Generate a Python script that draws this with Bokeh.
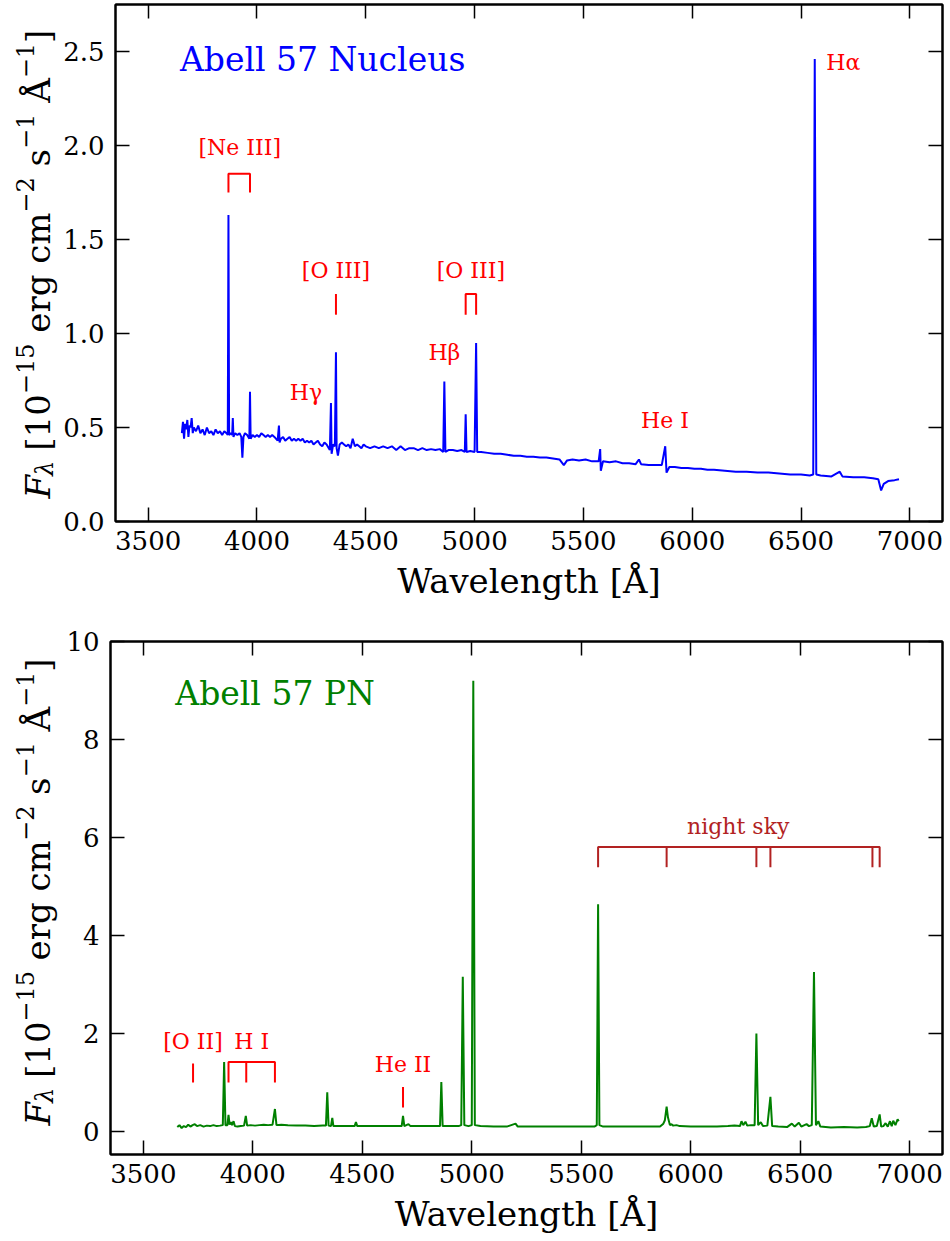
from bokeh.plotting import figure
from bokeh.models import Range1d, LinearAxis, FixedTicker, Label, NumeralTickFormatter
from bokeh.layouts import column, row
from bokeh.embed import file_html
from bokeh.resources import INLINE
from bokeh.core.properties import value

FONT = "DejaVu Serif"

# ---------------- data: Abell 57 nucleus spectrum (wavelength [A], flux) ----------------
nuc_spectrum = [
    (3655, 0.47), (3660, 0.53), (3665, 0.44), (3670, 0.52), (3675, 0.49), (3680, 0.54),
    (3685, 0.45), (3690, 0.51), (3695, 0.50), (3700, 0.55), (3705, 0.47), (3710, 0.50),
    (3720, 0.48), (3730, 0.51), (3740, 0.47), (3750, 0.49), (3760, 0.46), (3770, 0.50),
    (3780, 0.47), (3790, 0.48), (3800, 0.46), (3810, 0.49), (3820, 0.47), (3830, 0.48),
    (3840, 0.46), (3850, 0.48), (3860, 0.47), (3866, 0.46), (3869, 1.63), (3872, 0.46),
    (3880, 0.47), (3886, 0.46), (3889, 0.55), (3892, 0.45), (3900, 0.47), (3910, 0.46),
    (3920, 0.47), (3928, 0.45), (3933, 0.34), (3938, 0.45), (3945, 0.47), (3955, 0.46),
    (3965, 0.44), (3968, 0.69), (3971, 0.44), (3980, 0.46), (3990, 0.45), (4000, 0.46),
    (4010, 0.45), (4020, 0.47), (4030, 0.46), (4040, 0.45), (4050, 0.46), (4060, 0.45),
    (4070, 0.46), (4080, 0.45), (4095, 0.43), (4101, 0.51), (4104, 0.42), (4110, 0.44),
    (4120, 0.45), (4130, 0.43), (4140, 0.44), (4150, 0.45), (4160, 0.43), (4170, 0.44),
    (4180, 0.43), (4190, 0.44), (4200, 0.43), (4210, 0.44), (4220, 0.42), (4230, 0.43),
    (4240, 0.42), (4250, 0.43), (4260, 0.41), (4270, 0.42), (4280, 0.43), (4290, 0.41),
    (4300, 0.40), (4310, 0.42), (4320, 0.41), (4330, 0.39), (4335, 0.38), (4340, 0.63),
    (4343, 0.36), (4350, 0.41), (4358, 0.40), (4363, 0.90), (4366, 0.39), (4372, 0.35),
    (4380, 0.41), (4390, 0.42), (4400, 0.41), (4410, 0.40), (4420, 0.41), (4430, 0.39),
    (4440, 0.44), (4450, 0.40), (4460, 0.41), (4470, 0.40), (4480, 0.39), (4490, 0.41),
    (4500, 0.40), (4520, 0.39), (4540, 0.40), (4560, 0.39), (4580, 0.40), (4600, 0.39),
    (4620, 0.40), (4640, 0.38), (4660, 0.40), (4680, 0.38), (4700, 0.39), (4720, 0.39),
    (4740, 0.38), (4760, 0.39), (4780, 0.38), (4800, 0.385), (4820, 0.38), (4840, 0.385),
    (4856, 0.37), (4861, 0.745), (4866, 0.37), (4880, 0.38), (4900, 0.38), (4920, 0.375),
    (4940, 0.38), (4955, 0.37), (4959, 0.57), (4963, 0.37), (4980, 0.375), (5000, 0.37),
    (5007, 0.95), (5012, 0.37), (5030, 0.37), (5060, 0.365), (5090, 0.36), (5120, 0.36),
    (5150, 0.355), (5180, 0.35), (5210, 0.35), (5240, 0.345), (5270, 0.345), (5300, 0.34),
    (5330, 0.34), (5360, 0.335), (5390, 0.33), (5410, 0.30), (5425, 0.325), (5450, 0.33),
    (5480, 0.325), (5510, 0.33), (5540, 0.32), (5570, 0.32), (5577, 0.385), (5580, 0.27),
    (5590, 0.32), (5620, 0.315), (5650, 0.32), (5680, 0.31), (5710, 0.31), (5740, 0.305),
    (5755, 0.33), (5765, 0.305), (5800, 0.30), (5830, 0.30), (5860, 0.30), (5876, 0.40),
    (5882, 0.26), (5895, 0.29), (5920, 0.29), (5950, 0.285), (5980, 0.285), (6010, 0.28),
    (6040, 0.28), (6070, 0.275), (6100, 0.275), (6150, 0.27), (6200, 0.265), (6250, 0.265),
    (6300, 0.26), (6350, 0.26), (6400, 0.255), (6450, 0.25), (6500, 0.25), (6540, 0.245),
    (6556, 0.25), (6563, 2.46), (6570, 0.25), (6590, 0.245), (6640, 0.24), (6678, 0.265),
    (6690, 0.24), (6740, 0.235), (6790, 0.235), (6830, 0.23), (6855, 0.225), (6868, 0.165),
    (6880, 0.20), (6900, 0.215), (6930, 0.22), (6950, 0.225),
]

# ---------------- data: Abell 57 PN spectrum (wavelength [A], flux) ----------------
pn_spectrum = [
    (3655, 0.08), (3665, 0.12), (3675, 0.06), (3685, 0.10), (3695, 0.08), (3705, 0.13),
    (3715, 0.09), (3725, 0.12), (3735, 0.14), (3745, 0.10), (3760, 0.12), (3775, 0.09),
    (3790, 0.11), (3805, 0.10), (3820, 0.12), (3835, 0.10), (3850, 0.11), (3863, 0.12),
    (3869, 1.41), (3875, 0.12), (3884, 0.12), (3889, 0.33), (3894, 0.13), (3900, 0.18),
    (3905, 0.12), (3912, 0.20), (3918, 0.10), (3930, 0.09), (3945, 0.10), (3960, 0.11),
    (3968, 0.31), (3974, 0.11), (3990, 0.12), (4010, 0.11), (4030, 0.12), (4050, 0.13),
    (4070, 0.12), (4090, 0.13), (4101, 0.45), (4108, 0.12), (4130, 0.13), (4160, 0.12),
    (4200, 0.11), (4240, 0.11), (4280, 0.10), (4320, 0.11), (4334, 0.11), (4340, 0.79),
    (4346, 0.11), (4357, 0.10), (4363, 0.27), (4368, 0.10), (4400, 0.10), (4440, 0.10),
    (4465, 0.10), (4471, 0.18), (4477, 0.10), (4520, 0.10), (4560, 0.10), (4600, 0.10),
    (4640, 0.10), (4680, 0.10), (4686, 0.31), (4692, 0.10), (4711, 0.14), (4720, 0.10),
    (4760, 0.10), (4800, 0.10), (4840, 0.10), (4855, 0.10), (4861, 1.00), (4867, 0.10),
    (4900, 0.10), (4940, 0.10), (4952, 0.12), (4959, 3.15), (4966, 0.12), (4985, 0.10),
    (5000, 0.12), (5007, 9.20), (5014, 0.12), (5040, 0.10), (5100, 0.09), (5160, 0.09),
    (5200, 0.15), (5210, 0.09), (5260, 0.09), (5320, 0.09), (5380, 0.09), (5440, 0.09),
    (5500, 0.09), (5560, 0.09), (5571, 0.12), (5577, 4.63), (5583, 0.12), (5600, 0.09),
    (5660, 0.09), (5720, 0.09), (5800, 0.09), (5860, 0.09), (5875, 0.15), (5882, 0.22),
    (5890, 0.50), (5896, 0.28), (5905, 0.12), (5912, 0.14), (5920, 0.11), (5935, 0.12),
    (5950, 0.10), (6000, 0.09), (6060, 0.09), (6120, 0.09), (6170, 0.10), (6200, 0.11),
    (6225, 0.10), (6232, 0.20), (6240, 0.12), (6250, 0.19), (6258, 0.11), (6275, 0.12),
    (6292, 0.12), (6300, 1.99), (6308, 0.12), (6320, 0.18), (6330, 0.10), (6350, 0.11),
    (6364, 0.70), (6372, 0.10), (6400, 0.09), (6440, 0.08), (6462, 0.15), (6475, 0.09),
    (6494, 0.17), (6505, 0.09), (6529, 0.14), (6540, 0.10), (6553, 0.12), (6563, 3.25),
    (6572, 0.12), (6583, 0.20), (6592, 0.09), (6640, 0.07), (6700, 0.08), (6760, 0.07),
    (6800, 0.08), (6818, 0.10), (6827, 0.26), (6836, 0.09), (6850, 0.10), (6863, 0.34),
    (6870, 0.09), (6880, 0.10), (6890, 0.16), (6900, 0.09), (6910, 0.20), (6918, 0.10),
    (6925, 0.21), (6935, 0.12), (6945, 0.24), (6950, 0.20),
]

x_ticks = [3500, 4000, 4500, 5000, 5500, 6000, 6500, 7000]
nuc_y_ticks = [0.0, 0.5, 1.0, 1.5, 2.0, 2.5]
pn_y_ticks = [0, 2, 4, 6, 8, 10]

# line identifications (nucleus)
nuc_id_text = ["[Ne III]", "[O III]", "[O III]", "Hγ", "Hβ", "He I", "Hα"]
nuc_id_x = [3921, 4363, 4983, 4225, 4861, 5875, 6694]
nuc_id_y = [1.99, 1.335, 1.335, 0.687, 0.90, 0.537, 2.44]
nuc_marks = [[3869, 3968], [4363], [4959, 5007]]
nuc_mark_top = [1.85, 1.21, 1.21]
nuc_mark_bot = [1.75, 1.10, 1.10]

# line identifications (PN)
pn_id_text = ["[O II]", "H I", "He II"]
pn_id_x = [3727, 3995, 4686]
pn_id_y = [1.83, 1.83, 1.36]
pn_marks = [[3727], [3889, 3970, 4101], [4686]]
pn_mark_top = [1.38, 1.41, 0.90]
pn_mark_bot = [0.99, 0.99, 0.48]

sky_text = "night sky"
sky_text_x = 6217
sky_text_y = 6.22
sky_marks = [5577, 5890, 6300, 6364, 6830, 6863]
sky_mark_top = 5.80
sky_mark_bot = 5.39

# y-axis label: F_lambda [10^-15 erg cm^-2 s^-1 A^-1]  -> (text, role); role: 0 normal, 1 sup, 2 sub, 3 italic
ylabel_parts = [("F", 3), ("λ", 2), ("[10", 0), ("−15", 1), ("erg cm", 0), ("−2", 1),
                ("s", 0), ("−1", 1), ("Å", 0), ("−1", 1), ("]", 0)]
ylabel_space_before = [False, False, True, False, True, False, True, False, True, False, False]

XR = (3350, 7150)
NUC_YR = (0.0, 2.75)
PN_YR = (-0.48, 10.0)

RED = "#ff0000"
SKY = "#b22222"
LAB_W = 60

# approximate DejaVu Serif advance widths (em)
ADV = {"[": 0.390, "]": 0.390, "−": 0.838, "e": 0.592, "r": 0.478, "g": 0.635, "c": 0.560,
       "m": 0.948, "s": 0.514, "Å": 0.722, " ": 0.318, "F": 0.665, "λ": 0.60}


def text_width(t, size):
    return sum(ADV.get(ch, 0.636) for ch in t) * size


def style_axis(ax, show_labels):
    ax.axis_line_width = 2
    ax.axis_line_color = "black"
    ax.major_tick_in = 14
    ax.major_tick_out = 0
    ax.minor_tick_in = 0
    ax.minor_tick_out = 0
    ax.major_tick_line_width = 1.5
    ax.major_tick_line_color = "black"
    ax.major_label_text_font = FONT
    if show_labels:
        ax.major_label_text_font_size = "26px"
        ax.major_label_text_color = "black"
    else:
        ax.major_label_text_font_size = "1px"
        ax.major_label_text_color = None
        ax.major_label_standoff = 0


def make_fig(height, top, bottom, yr, yticks, yfmt):
    p = figure(width=950 - LAB_W, height=height, x_range=Range1d(*XR), y_range=Range1d(*yr),
               output_backend="svg", toolbar_location=None,
               min_border_left=110 - LAB_W, min_border_right=8,
               min_border_top=top, min_border_bottom=bottom)
    p.grid.visible = False
    p.outline_line_color = "black"
    p.outline_line_width = 2
    p.background_fill_color = "white"
    p.border_fill_color = "white"

    p.xaxis.ticker = FixedTicker(ticks=x_ticks)
    p.yaxis.ticker = FixedTicker(ticks=yticks)
    if yfmt:
        p.yaxis.formatter = NumeralTickFormatter(format=yfmt)
    style_axis(p.xaxis[0], True)
    style_axis(p.yaxis[0], True)
    p.xaxis.major_label_standoff = 9
    p.yaxis.major_label_standoff = 11
    p.xaxis.axis_label = "Wavelength [Å]"
    p.xaxis.axis_label_text_font = FONT
    p.xaxis.axis_label_text_font_size = "34px"
    p.xaxis.axis_label_text_font_style = "normal"
    p.xaxis.axis_label_text_color = "black"
    p.xaxis.axis_label_standoff = 8

    top_ax = LinearAxis(ticker=FixedTicker(ticks=x_ticks))
    right_ax = LinearAxis(ticker=FixedTicker(ticks=yticks))
    style_axis(top_ax, False)
    style_axis(right_ax, False)
    p.add_layout(top_ax, "above")
    p.add_layout(right_ax, "right")
    return p


def make_label_fig(height, top, bottom, start_px):
    # narrow strip holding the rotated y-axis label; its frame matches the main frame
    # vertically, and its data units are page pixels counted from the figure bottom
    q = figure(width=LAB_W, height=height, x_range=Range1d(0, LAB_W),
               y_range=Range1d(bottom, height - top),
               output_backend="svg", toolbar_location=None, x_axis_type=None, y_axis_type=None,
               min_border_left=0, min_border_right=0, min_border_top=top, min_border_bottom=bottom)
    q.outline_line_color = None
    q.grid.visible = False
    q.background_fill_color = "white"
    q.border_fill_color = "white"
    S, s = 34, 24
    base = 37
    pos = start_px
    for (t, role), sp in zip(ylabel_parts, ylabel_space_before):
        if sp:
            pos -= ADV[" "] * S
        size = S if role in (0, 3) else s
        bx = {0: base, 3: base, 1: base - 13, 2: base + 7}[role]
        style = "italic" if role in (2, 3) else "normal"
        q.text([bx], [height - pos], text=[t], angle=1.5707963,
               text_font=value(FONT), text_font_size=value("%dpx" % size),
               text_font_style=style, text_color="black",
               text_baseline="alphabetic", text_align="left")
        pos -= text_width(t, size)
    return q


def draw_marks(p, groups, tops, bots, color):
    xs, ys = [], []
    for g, t, b in zip(groups, tops, bots):
        if len(g) == 1:
            xs.append([g[0], g[0]])
            ys.append([b, t])
        else:
            xs.append([g[0], g[0], g[-1], g[-1]])
            ys.append([b, t, t, b])
            for w in g[1:-1]:
                xs.append([w, w])
                ys.append([b, t])
    p.multi_line(xs, ys, line_color=color, line_width=2)


# ---------------- top panel ----------------
H1, T1, B1 = 624, 4, 103
p1 = make_fig(H1, T1, B1, NUC_YR, nuc_y_ticks, "0.0")
nuc_w = [w for w, f in nuc_spectrum]
nuc_f = [f for w, f in nuc_spectrum]
p1.line(nuc_w, nuc_f, line_color="#0000ff", line_width=2)
draw_marks(p1, nuc_marks, nuc_mark_top, nuc_mark_bot, RED)
p1.text(nuc_id_x, nuc_id_y, text=nuc_id_text, text_color=RED,
        text_font=value(FONT), text_font_size=value("22px"),
        text_align="center", text_baseline="middle")
p1.add_layout(Label(x=3646, y=2.46, text="Abell 57 Nucleus", text_color="#0000ff",
                    text_font=FONT, text_font_size="33px", text_baseline="middle",
                    text_align="left"))
l1 = make_label_fig(H1, T1, B1, 498)

# ---------------- bottom panel ----------------
H2, T2, B2 = 612, 17, 80
p2 = make_fig(H2, T2, B2, PN_YR, pn_y_ticks, None)
pn_w = [w for w, f in pn_spectrum]
pn_f = [f for w, f in pn_spectrum]
p2.line(pn_w, pn_f, line_color="#008000", line_width=2)
draw_marks(p2, pn_marks, pn_mark_top, pn_mark_bot, RED)
p2.text(pn_id_x, pn_id_y, text=pn_id_text, text_color=RED,
        text_font=value(FONT), text_font_size=value("22px"),
        text_align="center", text_baseline="middle")
draw_marks(p2, [sky_marks], [sky_mark_top], [sky_mark_bot], SKY)
p2.text([sky_text_x], [sky_text_y], text=[sky_text], text_color=SKY,
        text_font=value(FONT), text_font_size=value("22px"),
        text_align="center", text_baseline="middle")
p2.add_layout(Label(x=3646, y=8.94, text="Abell 57 PN", text_color="#008000",
                    text_font=FONT, text_font_size="33px", text_baseline="middle",
                    text_align="left"))
l2 = make_label_fig(H2, T2, B2, 1127 - H1)

layout = column(row(l1, p1), row(l2, p2))
open("out.html", "w").write(file_html(layout, INLINE))
